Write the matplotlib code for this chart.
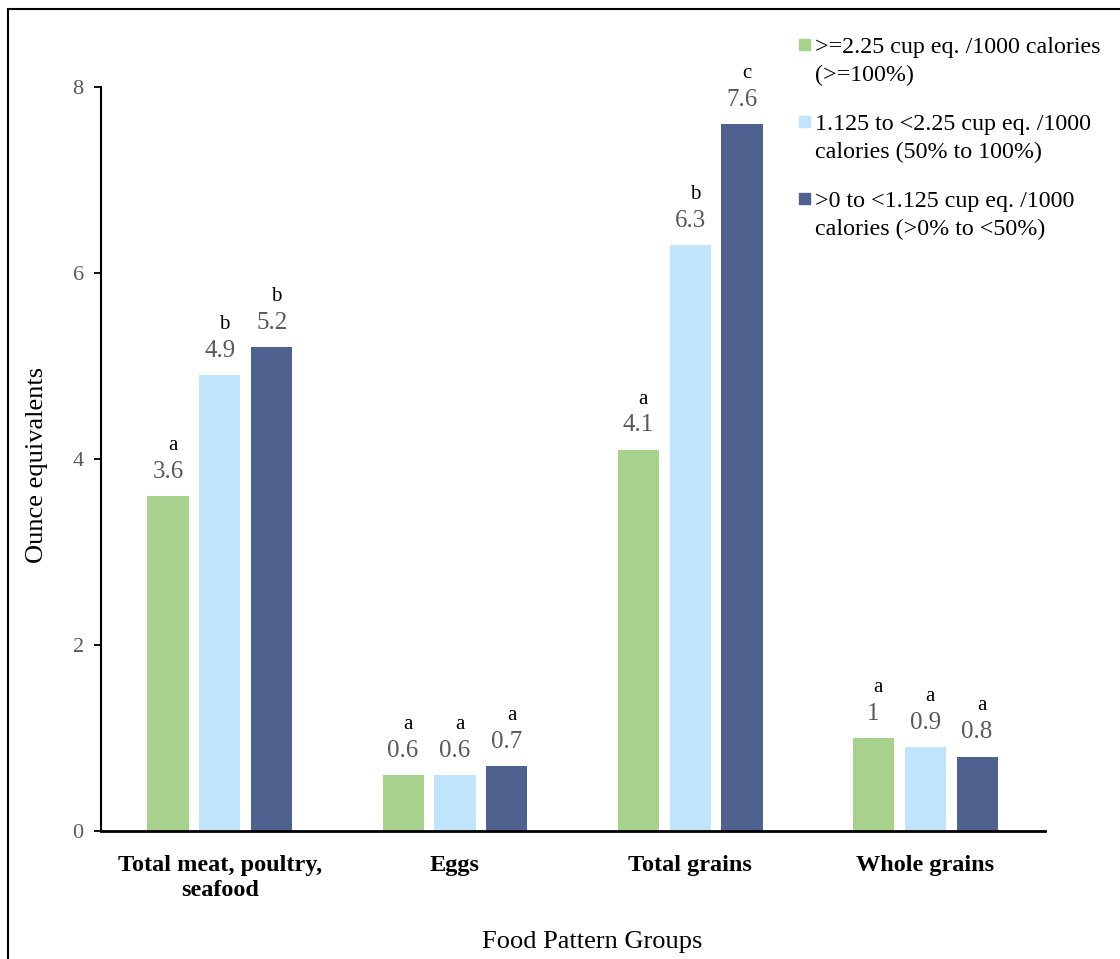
import numpy as np
import matplotlib
matplotlib.use('Agg')
import matplotlib.pyplot as plt
from matplotlib.patches import Rectangle

plt.rcParams['font.family'] = ['Liberation Serif', 'DejaVu Serif']

# data
groups = ['Total meat, poultry,\nseafood', 'Eggs', 'Total grains', 'Whole grains']
series = ['>=2.25 cup eq. /1000 calories\n(>=100%)',
          '1.125 to <2.25 cup eq. /1000\ncalories (50% to 100%)',
          '>0 to <1.125 cup eq. /1000\ncalories (>0% to <50%)']
high = [3.6, 0.6, 4.1, 1.0]
mid = [4.9, 0.6, 6.3, 0.9]
low = [5.2, 0.7, 7.6, 0.8]
letters_high = ['a', 'a', 'a', 'a']
letters_mid = ['b', 'a', 'b', 'a']
letters_low = ['b', 'a', 'c', 'a']
colors = ['#A9D18E', '#BFE4FC', '#4E618F']

W, H = 1120, 959
fig = plt.figure(figsize=(W / 100, H / 100), dpi=100)
ax = fig.add_axes([101 / W, 1 - 831 / H, (1045 - 101) / W, (831 - 87) / H])

x = np.arange(len(groups))
bw = 0.1745
step = 0.221
vals = [high, mid, low]
lets = [letters_high, letters_mid, letters_low]
for i in range(3):
    xs = x + (i - 1) * step
    ax.bar(xs, vals[i], width=bw, color=colors[i], zorder=2)
    for xi, v, l in zip(xs, vals[i], lets[i]):
        ax.annotate('%g' % v, (xi, v), xytext=(0, 17.5), textcoords='offset points',
                    ha='center', va='center', fontsize=18, color='#595959')
        ax.annotate(l, (xi + 0.02, v), xytext=(0, 36.5), textcoords='offset points',
                    ha='center', va='center', fontsize=15, color='black')

ax.set_xlim(-0.506, 3.51)
ax.set_ylim(0, 8)
ax.set_yticks([0, 2, 4, 6, 8])
ax.set_xticks(x)
ax.set_xticklabels(groups, fontsize=17.5, fontweight='bold', linespacing=1.29)
ax.tick_params(axis='x', length=0, pad=17)
ax.tick_params(axis='y', length=5, width=1.3, pad=7.5, labelsize=16, labelcolor='#595959', direction='out')
for s in ['top', 'right']:
    ax.spines[s].set_visible(False)
ax.spines['left'].set_linewidth(1.5)
ax.spines['bottom'].set_linewidth(2)

fig.text(37 / W, 1 - 465 / H, 'Ounce equivalents', rotation=90, ha='center', va='center', fontsize=19)
fig.text(592 / W, 1 - 942 / H, 'Food Pattern Groups', ha='center', va='center', fontsize=19)

# legend drawn by hand so the square sits on the first line
for i in range(3):
    ytop = 45 + i * 77
    fig.patches.append(Rectangle((799 / W, 1 - (ytop + 5) / H), 11 / W, 11 / H,
                                 transform=fig.transFigure, color=colors[i]))
    fig.text(815 / W, 1 - (ytop - 7.6) / H, series[i], ha='left', va='top',
             fontsize=17.3, linespacing=1.41)

# outer frame
fig.patches.append(Rectangle((8 / W, -0.1), 1.2, 1 - 9 / H + 0.1, transform=fig.transFigure,
                             fill=False, lw=1.5, edgecolor='black'))

fig.savefig('out.png', dpi=100)
